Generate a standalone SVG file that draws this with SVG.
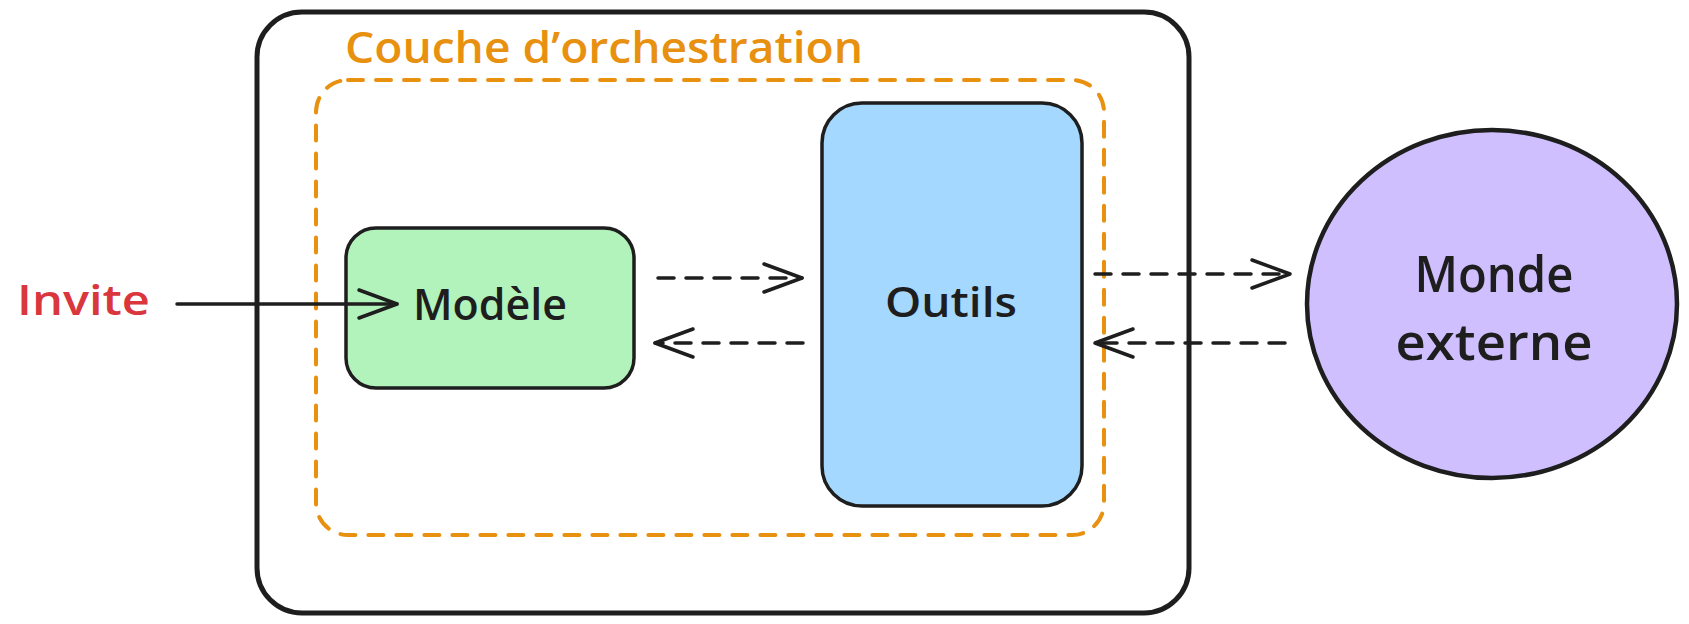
<svg xmlns="http://www.w3.org/2000/svg" width="1689" height="624" viewBox="0 0 1689 624">
<style>
.lbl{font-family:"Open Sans","Liberation Sans",sans-serif;fill:#1e1e1e;font-weight:600}
.node{stroke:#1e1e1e;stroke-width:3.5}
.conn{fill:none;stroke:#1e1e1e;stroke-width:3.5;stroke-linecap:round}
.dash{stroke-dasharray:16 12}
</style>
<defs>
<marker id="arr" viewBox="-42 -18 46 36" refX="0" refY="0" markerWidth="46" markerHeight="36" markerUnits="userSpaceOnUse" orient="auto">
<path d="M-38 -14 L0 0 L-38 14" fill="none" stroke="#1e1e1e" stroke-width="3.5" stroke-linecap="round" stroke-linejoin="round"/>
</marker>
</defs>
<rect width="1689" height="624" fill="#ffffff"/>
<g id="systeme">
<rect x="257" y="12" width="932" height="601" rx="45" fill="#ffffff" stroke="#1e1e1e" stroke-width="5"/>
</g>
<g id="orchestration">
<rect x="316" y="80" width="788" height="455" rx="32" fill="none" stroke="#e8900f" stroke-width="4" stroke-dasharray="15 13" stroke-linecap="round"/>
<text x="345" y="63" font-family="Open Sans, Liberation Sans, sans-serif" font-weight="600" font-size="44" fill="#e8900f" textLength="518" lengthAdjust="spacingAndGlyphs">Couche d’orchestration</text>
</g>
<g id="invite">
<text x="17" y="315" font-family="Open Sans, Liberation Sans, sans-serif" font-weight="600" font-size="42" fill="#d9363e" textLength="133" lengthAdjust="spacingAndGlyphs">Invite</text>
</g>
<g id="modele">
<rect class="node" x="346" y="228" width="288" height="160" rx="30" fill="#b2f2bb"/>
<text class="lbl" x="490" y="320" font-size="43" text-anchor="middle" textLength="154" lengthAdjust="spacingAndGlyphs">Modèle</text>
</g>
<g id="outils">
<rect class="node" x="822" y="103" width="260" height="403" rx="40" fill="#a5d8ff"/>
<text class="lbl" x="951" y="317" font-size="42" text-anchor="middle" textLength="132" lengthAdjust="spacingAndGlyphs">Outils</text>
</g>
<g id="monde">
<ellipse cx="1492" cy="304" rx="185" ry="174" fill="#d0bfff" stroke="#1e1e1e" stroke-width="4.5"/>
<text class="lbl" x="1494" y="292" font-size="50" text-anchor="middle" textLength="159" lengthAdjust="spacingAndGlyphs">Monde</text>
<text class="lbl" x="1494" y="360" font-size="50" text-anchor="middle" textLength="197" lengthAdjust="spacingAndGlyphs">externe</text>
</g>
<g id="connecteurs">
<path class="conn" d="M177 304 L397 304" marker-end="url(#arr)"/>
<path class="conn dash" d="M658 278 L802 278" marker-end="url(#arr)"/>
<path class="conn dash" d="M803 343 L655 343" marker-end="url(#arr)"/>
<path class="conn dash" d="M1095 274 L1290 274" marker-end="url(#arr)"/>
<path class="conn dash" d="M1285 343 L1095 343" marker-end="url(#arr)"/>
</g>
</svg>
